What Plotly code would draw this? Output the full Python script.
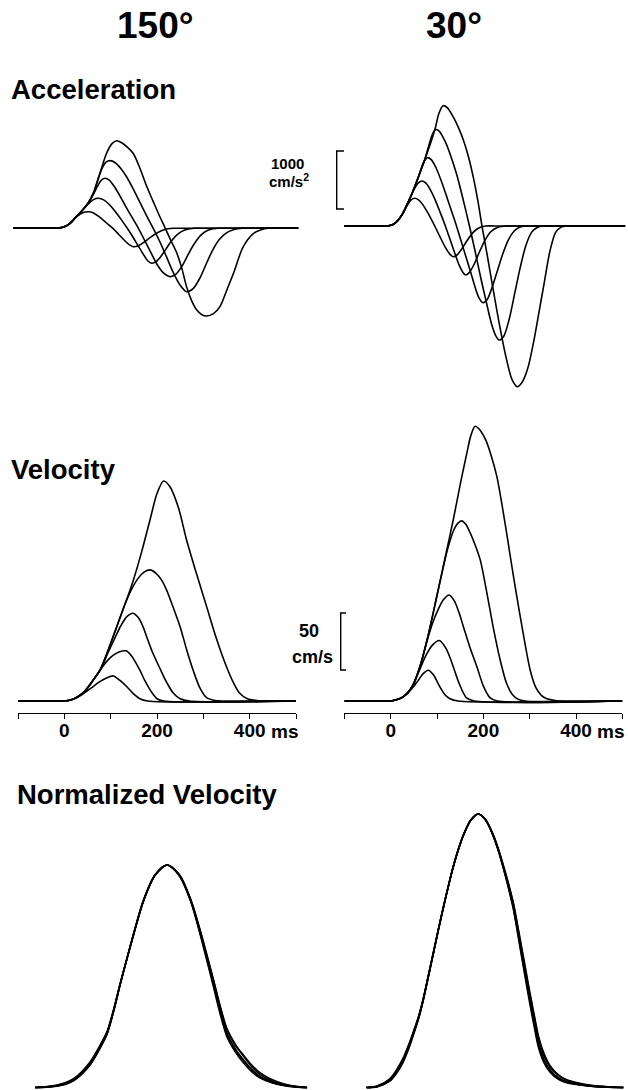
import plotly.graph_objects as go

FONT = "Liberation Sans, Arial, Helvetica, sans-serif"

# ---------------- DATA ----------------
# Titles / labels
column_titles = ["150°", "30°"]
row_titles = ["Acceleration", "Velocity", "Normalized Velocity"]
time_tickvals = [0, 200, 400]
time_ticktext = ["0", "200", "400"]
acc_scale_value = 1000     # cm/s^2 scale bar
vel_scale_value = 50       # cm/s scale bar

# ---- Acceleration, 150 deg (t in ms, a in cm/s^2) ----
acc150_t1 = [-110, -30, -13, 0, 13, 27, 40, 52, 63, 77, 91, 103, 113, 123, 136, 149, 163, 178, 192, 205, 218, 230, 243, 254, 264, 275, 286, 297, 307, 322, 336, 350, 365, 386, 408, 425, 440, 460, 505]
acc150_a1 = [0, 0, 3, 25, 90, 210, 320, 440, 610, 950, 1290, 1460, 1510, 1480, 1400, 1290, 1040, 720, 460, 220, 0, -210, -430, -700, -1010, -1250, -1410, -1490, -1512, -1470, -1350, -1080, -780, -320, -90, -25, 0, 0, 0]
acc150_t2 = [-110, -30, -13, 0, 13, 27, 40, 52, 63, 72, 82, 90, 99, 110, 122, 135, 150, 165, 180, 192, 205, 220, 235, 250, 264, 278, 292, 306, 320, 335, 350, 365, 385, 405, 505]
acc150_a2 = [0, 0, 3, 25, 90, 210, 320, 440, 610, 830, 1040, 1140, 1166, 1130, 1030, 880, 660, 420, 180, 0, -210, -480, -760, -980, -1093, -1040, -870, -620, -380, -190, -80, -25, 0, 0, 0]
acc150_t3 = [-110, -30, -13, 0, 13, 27, 40, 52, 63, 72, 80, 88, 97, 108, 120, 133, 147, 160, 173, 187, 200, 214, 228, 241, 255, 268, 282, 296, 310, 330, 350, 505]
acc150_a3 = [0, 0, 3, 25, 90, 210, 320, 440, 590, 730, 830, 862, 830, 720, 560, 370, 180, 0, -200, -420, -620, -770, -834, -790, -640, -440, -250, -110, -35, 0, 0, 0]
acc150_t4 = [-110, -30, -13, 0, 13, 27, 40, 52, 63, 74, 85, 97, 110, 123, 136, 148, 160, 170, 180, 189, 198, 208, 220, 232, 245, 260, 280, 300, 505]
acc150_a4 = [0, 0, 3, 25, 90, 210, 320, 420, 495, 517, 490, 410, 290, 150, 0, -150, -310, -440, -560, -603, -575, -490, -350, -210, -100, -30, 0, 0, 0]
acc150_t5 = [-110, -30, -13, 0, 13, 27, 40, 52, 63, 75, 90, 105, 118, 130, 140, 149, 160, 172, 185, 200, 215, 235, 255, 505]
acc150_a5 = [0, 0, 3, 25, 90, 200, 270, 286, 265, 200, 100, 0, -110, -210, -280, -317, -300, -240, -160, -80, -25, 0, 0, 0]

# ---- Acceleration, 30 deg ----
acc30_t1 = [-100, -25, -5, 5, 15, 25, 36, 48, 60, 72, 84, 96, 104, 113, 122, 135, 146, 157, 168, 178, 188, 197, 207, 218, 229, 240, 250, 262, 273, 284, 296, 308, 320, 332, 344, 356, 368, 380, 400, 506]
acc30_a1 = [0, 0, 3, 25, 90, 200, 380, 600, 850, 1110, 1380, 1680, 1940, 2074, 2040, 1880, 1700, 1480, 1190, 850, 440, 0, -440, -950, -1450, -1920, -2300, -2650, -2771, -2690, -2450, -2020, -1490, -950, -420, -110, -20, 0, 0, 0]
acc30_t2 = [-100, -25, -5, 5, 15, 25, 36, 48, 60, 72, 82, 89, 96, 104, 118, 130, 142, 155, 170, 182, 194, 206, 218, 226, 234, 244, 256, 268, 280, 292, 304, 316, 330, 350, 506]
acc30_a2 = [0, 0, 3, 25, 90, 200, 380, 600, 850, 1110, 1380, 1560, 1660, 1640, 1450, 1200, 900, 500, 0, -430, -880, -1300, -1700, -1880, -1966, -1900, -1600, -1150, -700, -330, -110, -25, 0, 0, 0]
acc30_t3 = [-100, -25, -5, 5, 15, 25, 36, 48, 60, 70, 79, 88, 98, 110, 122, 132, 142, 152, 162, 172, 182, 190, 199, 208, 218, 230, 242, 254, 266, 278, 292, 310, 506]
acc30_a3 = [0, 0, 3, 25, 90, 200, 380, 600, 850, 1080, 1178, 1140, 1000, 760, 480, 240, 0, -260, -520, -780, -1050, -1230, -1322, -1270, -1080, -780, -480, -240, -90, -20, 0, 0, 0]
acc30_t4 = [-100, -25, -5, 5, 15, 25, 36, 48, 58, 67, 76, 86, 96, 107, 118, 128, 138, 148, 156, 162, 170, 180, 192, 204, 216, 230, 250, 270, 506]
acc30_a4 = [0, 0, 3, 25, 90, 200, 380, 590, 730, 776, 740, 620, 450, 230, 0, -230, -460, -680, -800, -845, -800, -660, -440, -240, -100, -25, 0, 0, 0]
acc30_t5 = [-100, -25, -5, 5, 15, 25, 36, 44, 52, 60, 70, 82, 95, 106, 118, 128, 135, 143, 153, 165, 178, 190, 205, 225, 506]
acc30_a5 = [0, 0, 3, 25, 90, 200, 360, 450, 478, 450, 360, 200, 0, -180, -370, -490, -529, -500, -400, -250, -110, -35, 0, 0, 0]

# ---- Velocity, 150 deg (t in ms, v in cm/s) ----
vel150_t1 = [-100, -15, 0, 15, 30, 45, 60, 77, 95, 113, 131, 149, 167, 185, 200, 214, 228, 246, 264, 285, 307, 328, 350, 365, 378, 395, 415, 440, 500]
vel150_v1 = [0, 0, 0, 1, 4, 9, 17, 27, 45, 65, 85, 106, 131, 159, 182, 193, 188, 170, 141, 112, 83, 55, 30, 16, 7, 2, 0.5, 0, 0]
vel150_t2 = [-100, -15, 0, 15, 30, 45, 60, 77, 95, 113, 130, 145, 160, 172, 185, 198, 210, 221, 235, 250, 264, 278, 292, 307, 325, 345, 500]
vel150_v2 = [0, 0, 0, 1, 4, 9, 17, 27, 45, 65, 84, 98, 108, 113, 115, 112, 106, 97, 82, 65, 45, 27, 12, 3, 0.5, 0, 0]
vel150_t3 = [-100, -15, 0, 15, 30, 45, 60, 77, 95, 110, 122, 135, 148, 160, 170, 178, 190, 207, 220, 235, 250, 270, 500]
vel150_v3 = [0, 0, 0, 1, 4, 9, 17, 27, 43, 56, 66, 74, 77, 73, 65, 56, 43, 28, 17, 7, 2, 0, 0]
vel150_t4 = [-100, -15, 0, 15, 30, 45, 60, 77, 92, 105, 118, 133, 146, 155, 163, 175, 188, 200, 215, 500]
vel150_v4 = [0, 0, 0, 1, 4, 9, 17, 27, 35, 40, 43, 44, 39, 33, 27, 17, 8, 2, 0, 0]
vel150_t5 = [-100, -15, 0, 15, 30, 45, 60, 75, 90, 106, 120, 135, 150, 163, 180, 500]
vel150_v5 = [0, 0, 0, 1, 3.5, 7.5, 12, 16.5, 20, 22, 18, 12.5, 6, 2, 0, 0]

# ---- Velocity, 30 deg ----
vel30_t1 = [-100, -15, 0, 12, 24, 36, 48, 63, 81, 99, 117, 135, 150, 164, 173, 182, 192, 205, 217, 229, 241, 253, 265, 277, 289, 301, 313, 325, 337, 355, 380, 500]
vel30_v1 = [0, 0, 0, 1, 3, 7, 14, 30, 58, 91, 125, 159, 190, 217, 233, 241, 238, 229, 215, 197, 170, 140, 109, 80, 52, 27, 12, 5, 2, 0.5, 0, 0]
vel30_t2 = [-100, -15, 0, 12, 24, 36, 48, 63, 81, 99, 112, 124, 136, 145, 153, 162, 172, 182, 193, 207, 221, 235, 250, 262, 275, 290, 500]
vel30_v2 = [0, 0, 0, 1, 3, 7, 14, 30, 58, 91, 115, 135, 150, 156, 158, 155, 147, 137, 124, 96, 65, 38, 15.5, 6, 1.5, 0, 0]
vel30_t3 = [-100, -15, 0, 12, 24, 36, 48, 63, 78, 90, 102, 114, 126, 137, 147, 157, 171, 186, 200, 214, 230, 500]
vel30_v3 = [0, 0, 0, 1, 3, 7, 14, 30, 52, 68, 80, 89, 93, 88, 78, 65, 47, 30, 13, 3, 0, 0]
vel30_t4 = [-100, -15, 0, 12, 24, 36, 48, 63, 76, 90, 105, 118, 127, 135, 148, 163, 180, 500]
vel30_v4 = [0, 0, 0, 1, 3, 7, 14, 28, 40, 49, 53, 47, 39, 30, 15, 3, 0, 0]
vel30_t5 = [-100, -15, 0, 12, 24, 36, 48, 60, 70, 81, 92, 106, 118, 128, 145, 500]
vel30_v5 = [0, 0, 0, 1, 3, 6.5, 12, 18.5, 24, 27, 23, 12.5, 5, 2, 0, 0]

# ---- Normalized velocity, 150 deg (normalized time in ms-equivalent, % of peak) ----
norm150_t = [-63, -30, 0, 20, 38, 56, 74, 92, 107, 121, 136, 150, 171, 196, 222, 248, 273, 294, 308, 322, 336, 351, 369, 387, 405, 423, 448, 473, 500, 524]
norm150_v1 = [0, 0.4, 1.6, 3.4, 6.5, 10.8, 17, 24.3, 35, 46.8, 58.5, 69.2, 84, 95.5, 100, 95.5, 84, 69.2, 58, 46.8, 35, 24.3, 17.5, 12.4, 8, 4.9, 2.5, 1.1, 0.3, 0]
norm150_v2 = [0, 0.6, 2.0, 4.0, 7.2, 11.6, 17.8, 25.0, 35.5, 47.0, 58.5, 69.0, 83.8, 95.4, 100, 95.8, 84.5, 70.2, 59.5, 48.5, 37.0, 26.5, 19.5, 14.0, 9.2, 5.8, 3.0, 1.4, 0.4, 0]
norm150_v3 = [0, 0.3, 1.3, 3.0, 6.0, 10.2, 16.4, 23.8, 34.6, 46.6, 58.6, 69.5, 84.3, 95.6, 100, 95.2, 83.5, 68.2, 56.8, 45.2, 33.4, 22.8, 16.0, 11.0, 7.0, 4.2, 2.1, 0.9, 0.2, 0]
norm150_v4 = [0, 0.5, 1.8, 3.7, 6.8, 11.2, 17.4, 24.6, 35.2, 46.9, 58.4, 69.1, 83.9, 95.5, 100, 95.6, 84.2, 69.8, 59.0, 48.0, 36.5, 26.0, 19.0, 14.5, 10.0, 6.6, 3.6, 1.7, 0.5, 0]
norm150_v5 = [0, 0.4, 1.5, 3.2, 6.3, 10.5, 16.7, 24.0, 34.8, 46.7, 58.6, 69.3, 84.1, 95.5, 100, 95.4, 83.8, 68.8, 57.6, 46.2, 34.4, 23.8, 17.0, 12.0, 7.8, 4.6, 2.3, 1.0, 0.3, 0]

# ---- Normalized velocity, 30 deg ----
norm30_t = [-52, -30, -2, 12, 27, 38, 49, 60, 70, 81, 92, 103, 114, 125, 135, 146, 157, 173, 189, 205, 221, 232, 243, 254, 265, 274, 283, 292, 301, 310, 319, 331, 344, 362, 380, 408, 437, 470, 502]
norm30_v1 = [0, 0.3, 2.7, 5.6, 10, 14.5, 19.8, 25.5, 32, 40.5, 49.1, 57.8, 66.1, 74, 80.7, 87.0, 92.3, 97.8, 100, 97.8, 92.3, 87.0, 80.7, 73.8, 66.1, 57.8, 49.1, 40.5, 32, 24, 16.2, 10.2, 6.4, 3.6, 2.1, 1.1, 0.5, 0.2, 0]
norm30_v2 = [0, 0.5, 3.2, 6.3, 10.8, 15.3, 20.5, 26.0, 32.4, 40.8, 49.3, 58.0, 66.2, 74.0, 80.6, 86.9, 92.2, 97.7, 100, 97.9, 92.6, 87.5, 81.4, 74.8, 67.4, 59.4, 51.0, 42.6, 34.2, 26.4, 18.8, 12.4, 8.0, 4.6, 2.8, 1.5, 0.7, 0.3, 0]
norm30_v3 = [0, 0.2, 2.3, 5.0, 9.3, 13.8, 19.2, 25.0, 31.6, 40.2, 48.9, 57.6, 66.0, 74.0, 80.8, 87.1, 92.4, 97.8, 100, 97.7, 92.1, 86.7, 80.2, 73.0, 65.0, 56.4, 47.4, 38.6, 30.0, 22.0, 14.6, 9.0, 5.6, 3.0, 1.7, 0.9, 0.4, 0.1, 0]
norm30_v4 = [0, 0.4, 2.9, 5.9, 10.3, 14.8, 20.0, 25.7, 32.1, 40.6, 49.2, 57.9, 66.1, 74.0, 80.7, 87.0, 92.3, 97.8, 100, 97.8, 92.4, 87.2, 81.0, 74.3, 66.8, 58.6, 50.2, 41.8, 33.4, 25.6, 18.0, 11.6, 7.4, 4.4, 2.6, 1.4, 0.6, 0.2, 0]
norm30_v5 = [0, 0.3, 2.5, 5.3, 9.7, 14.2, 19.5, 25.2, 31.8, 40.3, 49.0, 57.7, 66.1, 74.0, 80.7, 87.0, 92.3, 97.8, 100, 97.8, 92.2, 86.8, 80.4, 73.4, 65.6, 57.0, 48.2, 39.6, 31.0, 23.0, 15.4, 9.6, 6.0, 3.3, 1.9, 1.0, 0.4, 0.1, 0]

# ---------------- FIGURE ----------------
W, H = 628, 1090


def py(p):
    """pixel row -> paper y"""
    return 1 - p / H


def px(p):
    return p / W


LINE = dict(color="black", width=1.6, shape="spline", smoothing=0.8)

fig = go.Figure()


def add(ts, vs, ax):
    fig.add_trace(go.Scatter(x=ts, y=vs, mode="lines", line=LINE,
                             xaxis="x" + ax, yaxis="y" + ax,
                             showlegend=False, hoverinfo="skip"))


for t, a in [(acc150_t1, acc150_a1), (acc150_t2, acc150_a2), (acc150_t3, acc150_a3),
             (acc150_t4, acc150_a4), (acc150_t5, acc150_a5)]:
    add(t, a, "")
for t, a in [(acc30_t1, acc30_a1), (acc30_t2, acc30_a2), (acc30_t3, acc30_a3),
             (acc30_t4, acc30_a4), (acc30_t5, acc30_a5)]:
    add(t, a, "2")
for t, v in [(vel150_t1, vel150_v1), (vel150_t2, vel150_v2), (vel150_t3, vel150_v3),
             (vel150_t4, vel150_v4), (vel150_t5, vel150_v5)]:
    add(t, v, "3")
for t, v in [(vel30_t1, vel30_v1), (vel30_t2, vel30_v2), (vel30_t3, vel30_v3),
             (vel30_t4, vel30_v4), (vel30_t5, vel30_v5)]:
    add(t, v, "4")
for v in [norm150_v1, norm150_v2, norm150_v3, norm150_v4, norm150_v5]:
    add(norm150_t, v, "5")
for v in [norm30_v1, norm30_v2, norm30_v3, norm30_v4, norm30_v5]:
    add(norm30_t, v, "6")

# time mapping: 0.4633 px per ms; t=0 at x=64.3 (left) and x=390.7 (right)
S = 0.4633
L0, R0 = 64.3, 390.7
left_range = [(0 - L0) / S, (314 - L0) / S]
right_range = [(314 - R0) / S, (628 - R0) / S]

hidden = dict(visible=False, showgrid=False, zeroline=False, fixedrange=True)

time_axis = dict(
    range=[-100, 500], showline=True, linecolor="black", linewidth=1.4,
    ticks="outside", ticklen=5, tickwidth=1.3, tickcolor="black",
    tickmode="array", tickvals=time_tickvals, ticktext=time_ticktext,
    minor=dict(ticks="outside", ticklen=5, tickwidth=1.3, tickcolor="black",
               tick0=-100, dtick=100, showgrid=False),
    ticklabelstandoff=-5,
    tickfont=dict(family=FONT, size=19, color="black", weight="bold"),
    showgrid=False, zeroline=False, fixedrange=True,
)

# acceleration: 0.058 px per cm/s^2 ; velocity: 1.14 px per cm/s
AS = 0.058
VS = 1.14

fig.update_layout(
    width=W, height=H, autosize=False,
    margin=dict(l=0, r=0, t=0, b=0),
    paper_bgcolor="white", plot_bgcolor="rgba(0,0,0,0)",
    showlegend=False,
    xaxis=dict(domain=[0, 0.5], range=left_range, anchor="y", **hidden),
    yaxis=dict(domain=[py(345), py(70)], range=[-(345 - 228.3) / AS, (228.3 - 70) / AS], anchor="x", **hidden),
    xaxis2=dict(domain=[0.5, 1], range=right_range, anchor="y2", **hidden),
    yaxis2=dict(domain=[py(408), py(70)], range=[-(408 - 226) / AS, (226 - 70) / AS], anchor="x2", **hidden),
    xaxis3=dict(domain=[px(18), px(296)], anchor="y3", **time_axis),
    yaxis3=dict(domain=[py(713), py(418)], range=[-(713 - 701) / VS, (701 - 418) / VS], anchor="x3", **hidden),
    xaxis4=dict(domain=[px(344.4), px(622.4)], anchor="y4", **time_axis),
    yaxis4=dict(domain=[py(713), py(418)], range=[-(713 - 701) / VS, (701 - 418) / VS], anchor="x4", **hidden),
    xaxis5=dict(domain=[0, 0.5], range=left_range, anchor="y5", **hidden),
    yaxis5=dict(domain=[0, py(760)], range=[-(1090 - 1087.5) / 2.225, (1087.5 - 760) / 2.225], anchor="x5", **hidden),
    xaxis6=dict(domain=[0.5, 1], range=right_range, anchor="y6", **hidden),
    yaxis6=dict(domain=[0, py(760)], range=[-(1090 - 1087.5) / 2.735, (1087.5 - 760) / 2.735], anchor="x6", **hidden),
)

# scale bars (brackets) - vertical length from the axis scale
acc_bar_bottom = (226 - 209) / AS
fig.add_shape(type="path",
              path=f"M {px(344)} {acc_bar_bottom + acc_scale_value} L {px(336.7)} {acc_bar_bottom + acc_scale_value} "
                   f"L {px(336.7)} {acc_bar_bottom} L {px(344)} {acc_bar_bottom}",
              xref="paper", yref="y2", line=dict(color="black", width=1.4))
vel_bar_bottom = (701 - 670) / VS
fig.add_shape(type="path",
              path=f"M {px(346)} {vel_bar_bottom + vel_scale_value} L {px(340.7)} {vel_bar_bottom + vel_scale_value} "
                   f"L {px(340.7)} {vel_bar_bottom} L {px(346)} {vel_bar_bottom}",
              xref="paper", yref="y4", line=dict(color="black", width=1.4))


def note(text, x, y, size, xanchor="center", **kw):
    fig.add_annotation(text=text, x=x, y=y, xref="paper", yref="paper",
                       xanchor=xanchor, yanchor="middle", showarrow=False,
                       font=dict(family=FONT, size=size, color="black", weight="bold"), **kw)


note(column_titles[0], px(155), py(26), 37)
note(column_titles[1], px(454), py(26), 37)
note(row_titles[0], px(9), py(90), 27.5, xanchor="left")
note(row_titles[1], px(9), py(469), 27.5, xanchor="left")
note(row_titles[2], px(15), py(794), 27.5, xanchor="left")

note(str(acc_scale_value), px(287), py(163), 15)
note("cm/s<sup>2</sup>", px(289), py(181), 15)
note(str(vel_scale_value), px(309), py(631), 18)
note("cm/s", px(312), py(657), 18)

# "ms" unit after the 400 tick label
for ax in ["x3", "x4"]:
    fig.add_annotation(text="ms", x=400, xref=ax, y=py(731), yref="paper",
                       xanchor="left", yanchor="middle", xshift=19, showarrow=False,
                       font=dict(family=FONT, size=19, color="black", weight="bold"))

fig.write_html("out.html")
